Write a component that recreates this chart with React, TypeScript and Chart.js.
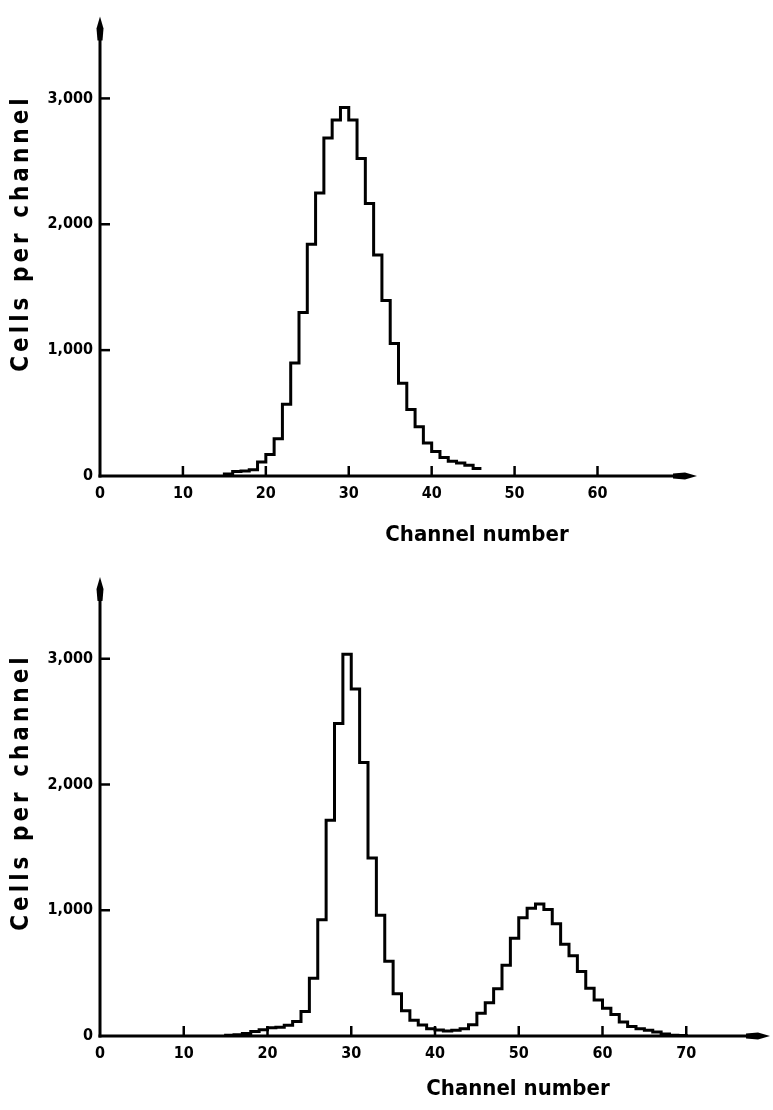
import React, { useEffect, useRef } from 'react';
import { Chart, registerables } from 'chart.js';

Chart.register(...registerables);

const FONT = '"DejaVu Sans Condensed", "DejaVu Sans", sans-serif';

// ---- Data ----
const topChannels = [15, 16, 17, 18, 19, 20, 21, 22, 23, 24, 25, 26, 27, 28, 29, 30, 31, 32, 33, 34, 35, 36, 37, 38, 39, 40, 41, 42, 43, 44, 45];
const topCounts = [15, 35, 40, 50, 112, 170, 295, 570, 897, 1300, 1841, 2249, 2686, 2829, 2927, 2829, 2522, 2166, 1755, 1394, 1053, 736, 528, 392, 263, 195, 146, 117, 104, 86, 60];

const bottomChannels = [15, 16, 17, 18, 19, 20, 21, 22, 23, 24, 25, 26, 27, 28, 29, 30, 31, 32, 33, 34, 35, 36, 37, 38, 39, 40, 41, 42, 43, 44, 45, 46, 47, 48, 49, 50, 51, 52, 53, 54, 55, 56, 57, 58, 59, 60, 61, 62, 63, 64, 65, 66, 67, 68, 69];
const bottomCounts = [5, 10, 20, 35, 50, 65, 70, 85, 115, 195, 460, 925, 1715, 2485, 3035, 2760, 2175, 1415, 960, 595, 335, 200, 125, 88, 58, 48, 40, 45, 58, 90, 180, 265, 375, 562, 778, 940, 1015, 1050, 1005, 892, 730, 639, 513, 380, 287, 220, 170, 111, 76, 57, 45, 32, 15, 6, 3];

const yTickValues = [0, 1000, 2000, 3000];
const yTickLabels = ['0', '1,000', '2,000', '3,000'];
const topXTicks = [0, 10, 20, 30, 40, 50, 60];
const bottomXTicks = [0, 10, 20, 30, 40, 50, 60, 70];

const xTitle = 'Channel number';
const yTitle = 'Cells per channel';

function stepPoints(channels: number[], counts: number[], closeToZero: boolean) {
  const pts: { x: number; y: number }[] = [{ x: channels[0], y: 0 }];
  channels.forEach((c, i) => pts.push({ x: c, y: counts[i] }));
  const end = channels[channels.length - 1] + 1;
  pts.push({ x: end, y: closeToZero ? 0 : counts[counts.length - 1] });
  return pts;
}

const axesPlugin = {
  id: 'axesDecor',
  afterDraw(chart: any, _args: any, opts: any) {
    const { ctx, chartArea: a } = chart;
    const x = chart.scales.x;
    const y = chart.scales.y;
    const x0 = x.getPixelForValue(0);
    const y0 = y.getPixelForValue(0);
    ctx.save();
    ctx.strokeStyle = '#000';
    ctx.fillStyle = '#000';
    ctx.lineWidth = 3;
    ctx.lineCap = 'butt';
    // x axis with arrow
    ctx.beginPath();
    ctx.moveTo(x0 - 1.5, y0);
    ctx.lineTo(a.right - 18, y0);
    ctx.stroke();
    ctx.beginPath();
    ctx.moveTo(a.right, y0);
    ctx.lineTo(a.right - 12, y0 - 3.5);
    ctx.lineTo(a.right - 24, y0 - 2.5);
    ctx.lineTo(a.right - 24, y0 + 2.5);
    ctx.lineTo(a.right - 12, y0 + 3.5);
    ctx.closePath();
    ctx.fill();
    // y axis with arrow
    ctx.beginPath();
    ctx.moveTo(x0, y0 + 1.5);
    ctx.lineTo(x0, a.top + 18);
    ctx.stroke();
    ctx.beginPath();
    ctx.moveTo(x0, a.top);
    ctx.lineTo(x0 - 3.5, a.top + 12);
    ctx.lineTo(x0 - 2.5, a.top + 24);
    ctx.lineTo(x0 + 2.5, a.top + 24);
    ctx.lineTo(x0 + 3.5, a.top + 12);
    ctx.closePath();
    ctx.fill();
    // inward ticks
    ctx.lineWidth = 2.5;
    (opts.xTicks as number[]).forEach((v) => {
      if (v === 0) return;
      const px = x.getPixelForValue(v);
      ctx.beginPath();
      ctx.moveTo(px, y0);
      ctx.lineTo(px, y0 - 10);
      ctx.stroke();
    });
    yTickValues.forEach((v) => {
      if (v === 0) return;
      const py = y.getPixelForValue(v);
      ctx.beginPath();
      ctx.moveTo(x0, py);
      ctx.lineTo(x0 + 10, py);
      ctx.stroke();
    });
    // axis titles
    ctx.font = `bold 22px ${FONT}`;
    ctx.textAlign = 'center';
    ctx.textBaseline = 'middle';
    ctx.fillText(xTitle, opts.xTitleX, opts.xTitleY);
    ctx.save();
    ctx.translate(opts.yTitleX, opts.yTitleY);
    ctx.rotate(-Math.PI / 2);
    try { (ctx as any).letterSpacing = '4px'; } catch (e) {}
    ctx.font = `bold 24px ${FONT}`;
    ctx.fillText(yTitle, 0, 0);
    ctx.restore();
    ctx.restore();
  },
};

type Panel = {
  channels: number[];
  counts: number[];
  closeToZero: boolean;
  xMax: number;
  yMax: number;
  xTicks: number[];
  height: number;
  padTop: number;
  padRight: number;
  xAxisHeight: number;
  xTitleX: number;
  xTitleY: number;
  yTitleX: number;
  yTitleY: number;
};

function HistChart({ panel, top }: { panel: Panel; top: number }) {
  const ref = useRef<HTMLCanvasElement | null>(null);
  useEffect(() => {
    if (!ref.current) return;
    const chart = new Chart(ref.current, {
      type: 'line',
      data: {
        datasets: [
          {
            data: stepPoints(panel.channels, panel.counts, panel.closeToZero),
            stepped: 'before',
            borderColor: '#000',
            borderWidth: 3,
            pointRadius: 0,
            fill: false,
            clip: false as any,
          },
        ],
      },
      options: {
        animation: false,
        responsive: false,
        events: [],
        layout: { padding: { left: 0, top: panel.padTop, right: panel.padRight, bottom: 0 } },
        plugins: {
          legend: { display: false },
          tooltip: { enabled: false },
          axesDecor: {
            xTicks: panel.xTicks,
            xTitleX: panel.xTitleX,
            xTitleY: panel.xTitleY,
            yTitleX: panel.yTitleX,
            yTitleY: panel.yTitleY,
          },
        } as any,
        scales: {
          x: {
            type: 'linear',
            min: 0,
            max: panel.xMax,
            grid: { display: false, drawTicks: false },
            border: { display: false },
            afterBuildTicks: (s: any) => {
              s.ticks = panel.xTicks.map((v) => ({ value: v }));
            },
            afterFit: (s: any) => {
              s.height = panel.xAxisHeight;
            },
            ticks: {
              color: '#000',
              padding: 8,
              maxRotation: 0,
              autoSkip: false,
              font: { family: FONT, size: 16, weight: 'bold' },
              callback: (v: any) => String(v),
            },
          },
          y: {
            type: 'linear',
            min: 0,
            max: panel.yMax,
            grid: { display: false, drawTicks: false },
            border: { display: false },
            afterBuildTicks: (s: any) => {
              s.ticks = yTickValues.map((v) => ({ value: v }));
            },
            afterFit: (s: any) => {
              s.width = 100;
            },
            ticks: {
              color: '#000',
              padding: 7,
              autoSkip: false,
              font: { family: FONT, size: 16, weight: 'bold' },
              callback: (v: any) => {
                const i = yTickValues.indexOf(Number(v));
                return i >= 0 ? yTickLabels[i] : '';
              },
            },
          },
        },
      },
      plugins: [axesPlugin as any],
    });
    return () => chart.destroy();
  }, [panel]);
  return (
    <canvas
      ref={ref}
      width={773}
      height={panel.height}
      style={{ position: 'absolute', left: 0, top, width: 773, height: panel.height }}
    />
  );
}

const topPanel: Panel = {
  channels: topChannels,
  counts: topCounts,
  closeToZero: false,
  xMax: 72,
  yMax: 3650,
  xTicks: topXTicks,
  height: 560,
  padTop: 10,
  padRight: 76,
  xAxisHeight: 84,
  xTitleX: 477,
  xTitleY: 535,
  yTitleX: 22,
  yTitleY: 233,
};

const bottomPanel: Panel = {
  channels: bottomChannels,
  counts: bottomCounts,
  closeToZero: true,
  xMax: 80,
  yMax: 3650,
  xTicks: bottomXTicks,
  height: 550,
  padTop: 17,
  padRight: 3,
  xAxisHeight: 74,
  xTitleX: 518,
  xTitleY: 529,
  yTitleX: 22,
  yTitleY: 232,
};

export default function App() {
  return (
    <div style={{ position: 'absolute', left: 0, top: 0, width: 773, height: 1110, background: '#fff', overflow: 'hidden' }}>
      <HistChart panel={topPanel} top={0} />
      <HistChart panel={bottomPanel} top={560} />
    </div>
  );
}
